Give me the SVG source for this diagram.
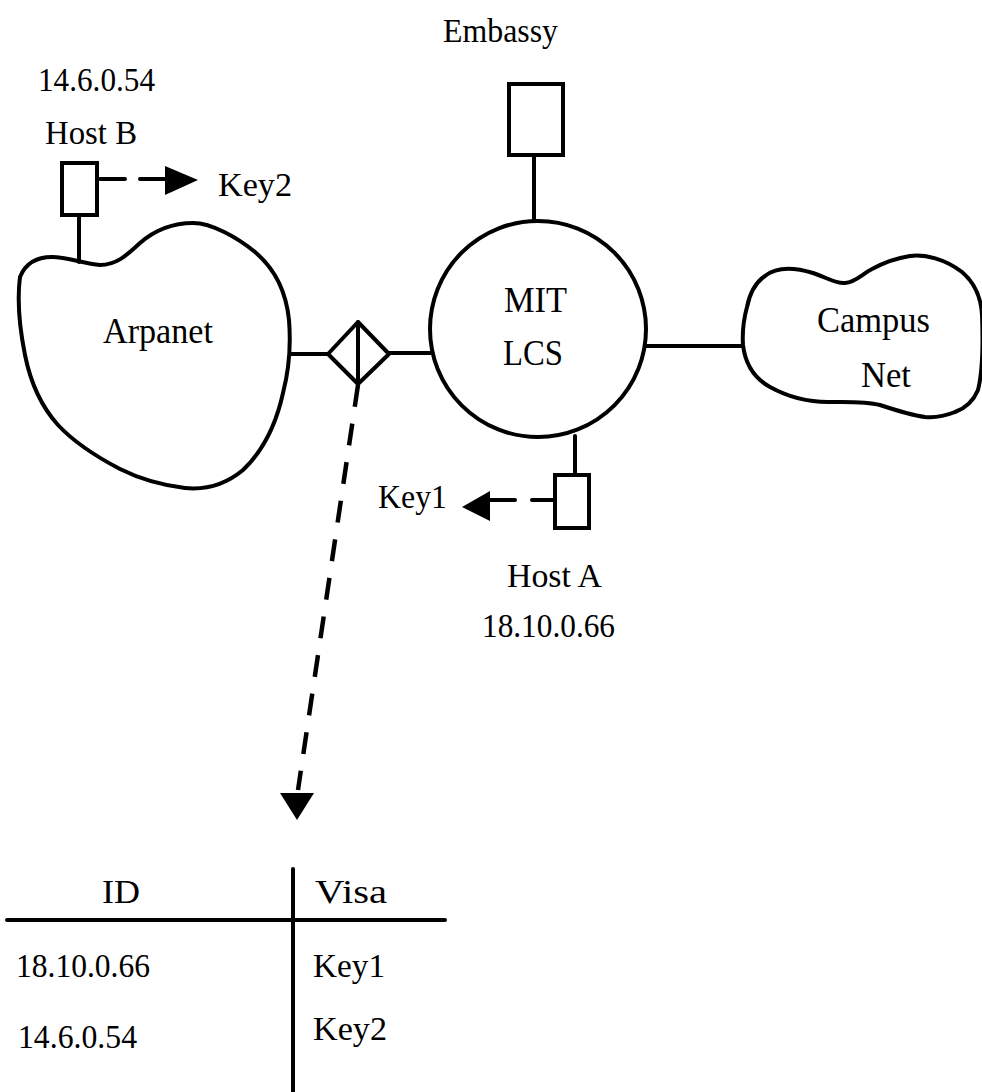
<svg xmlns="http://www.w3.org/2000/svg" width="982" height="1092" viewBox="0 0 982 1092">
<style>
.t{font-family:"Liberation Serif","Times New Roman",serif;font-size:33px;fill:#000}
.big{font-size:35px}
.s{fill:none;stroke:#000;stroke-width:4;stroke-linejoin:round;stroke-linecap:round}
.box{fill:#fff;stroke:#000;stroke-width:4}
.dash{fill:none;stroke:#000;stroke-width:4.5;stroke-dasharray:22 17;stroke-linecap:butt}
</style>
<rect width="982" height="1092" fill="#fff"/>
<g id="connectors">
<line class="s" x1="79" y1="215" x2="79" y2="262"/>
<line class="s" x1="534" y1="155" x2="534" y2="221"/>
<line class="s" x1="290" y1="354" x2="328" y2="354"/>
<line class="s" x1="389" y1="353" x2="431" y2="353"/>
<line class="s" x1="646" y1="346" x2="743" y2="346"/>
<line class="s" x1="575" y1="436" x2="575" y2="475"/>
<line class="s" x1="100" y1="179" x2="125" y2="179"/>
<line class="s" x1="140" y1="179" x2="165" y2="179"/>
<polygon points="165,166 198,180 165,195" fill="#000"/>
<line class="s" x1="555" y1="500" x2="532" y2="500"/>
<line class="s" x1="515" y1="500" x2="490" y2="500"/>
<polygon points="490,491 462,507 490,521" fill="#000"/>
<line class="dash" x1="358" y1="385" x2="298" y2="790"/>
<polygon points="280,793 314,793 297,820" fill="#000"/>
</g>
<g id="arpanet">
<path class="s" d="M20,277 C26,262 38,257 52,257 C68,257 84,264 100,265 C116,265 126,256 140,243 C155,230 172,223 193,223 C212,223 238,238 255,252 C274,268 286,290 289,320 C291,345 289,370 283,393 C276,425 264,450 243,470 C225,485 205,490 185,488 C160,485 138,478 120,469 C95,456 72,440 58,425 C40,405 30,380 25,355 C20,330 17,300 20,277 Z"/>
<text class="t big" x="103" y="343" textLength="110" lengthAdjust="spacingAndGlyphs">Arpanet</text>
</g>
<g id="hostB">
<rect class="box" x="62" y="163" width="35" height="52"/>
<text class="t" x="38" y="91" textLength="117" lengthAdjust="spacingAndGlyphs">14.6.0.54</text>
<text class="t" x="45" y="144" textLength="92" lengthAdjust="spacingAndGlyphs">Host B</text>
<text class="t" x="218" y="196" textLength="74" lengthAdjust="spacingAndGlyphs">Key2</text>
</g>
<g id="gateway">
<polygon class="s" points="328,354 358,322 389,354 358,384"/>
<line class="s" x1="358" y1="322" x2="358" y2="384"/>
</g>
<g id="embassy">
<rect class="box" x="509" y="84" width="54" height="71"/>
<text class="t" x="443" y="42" textLength="115" lengthAdjust="spacingAndGlyphs">Embassy</text>
</g>
<g id="mitlcs">
<circle class="s" cx="538" cy="329" r="108" fill="#fff"/>
<text class="t big" x="504" y="312" textLength="63" lengthAdjust="spacingAndGlyphs">MIT</text>
<text class="t big" x="503" y="365" textLength="60" lengthAdjust="spacingAndGlyphs">LCS</text>
</g>
<g id="campus">
<path class="s" d="M747,307 C750,292 756,282 765,276 C775,268 790,266 813,273 C828,278 836,284 845,283 C856,282 862,274 872,269 C885,262 897,258 910,256 C925,254 945,259 962,272 C975,283 981,296 982,315 C983,340 983,370 978,390 C973,402 966,408 955,412 C945,416 935,418 925,417 C910,415 895,410 880,405 C865,401 845,402 828,402 C810,402 790,398 770,387 C752,377 745,362 743,345 C742,330 744,318 747,307 Z"/>
<text class="t big" x="817" y="332" textLength="113" lengthAdjust="spacingAndGlyphs">Campus</text>
<text class="t big" x="861" y="387" textLength="50" lengthAdjust="spacingAndGlyphs">Net</text>
</g>
<g id="hostA">
<rect class="box" x="555" y="475" width="34" height="53"/>
<text class="t" x="378" y="508" textLength="69" lengthAdjust="spacingAndGlyphs">Key1</text>
<text class="t" x="507" y="587" textLength="95" lengthAdjust="spacingAndGlyphs">Host A</text>
<text class="t" x="482" y="637" textLength="133" lengthAdjust="spacingAndGlyphs">18.10.0.66</text>
</g>
<g id="table">
<line class="s" x1="293" y1="869" x2="293" y2="1092"/>
<line class="s" x1="7" y1="920" x2="445" y2="920"/>
<text class="t" x="102" y="903" textLength="38" lengthAdjust="spacingAndGlyphs">ID</text>
<text class="t" x="315" y="903" textLength="72" lengthAdjust="spacingAndGlyphs">Visa</text>
<text class="t" x="16" y="977" textLength="134" lengthAdjust="spacingAndGlyphs">18.10.0.66</text>
<text class="t" x="313" y="977" textLength="72" lengthAdjust="spacingAndGlyphs">Key1</text>
<text class="t" x="18" y="1048" textLength="119" lengthAdjust="spacingAndGlyphs">14.6.0.54</text>
<text class="t" x="313" y="1040" textLength="74" lengthAdjust="spacingAndGlyphs">Key2</text>
</g>
</svg>
